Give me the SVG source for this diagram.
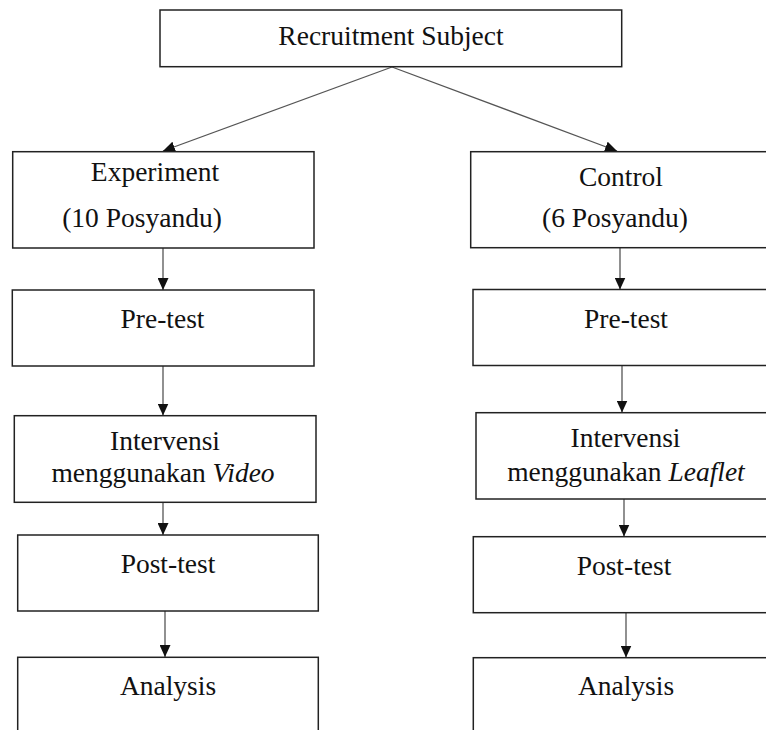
<svg xmlns="http://www.w3.org/2000/svg" width="766" height="730" viewBox="0 0 766 730">
<defs>
<style>
.box{fill:#fff;stroke:#222;stroke-width:1.5}
.lbl{font-family:"Liberation Serif","Times New Roman",serif;font-size:27.5px;fill:#111;text-anchor:middle}
.conn{stroke:#555;stroke-width:1.3;fill:none;marker-end:url(#ah)}
</style>
<marker id="ah" markerUnits="userSpaceOnUse" markerWidth="13" markerHeight="11" refX="12" refY="5.5" orient="auto">
<path d="M0,0 L12,5.5 L0,11 z" fill="#111"/>
</marker>
</defs>
<rect width="766" height="730" fill="#fff"/>
<g id="connectors">
<line class="conn" x1="392" y1="67" x2="163" y2="151"/>
<line class="conn" x1="392" y1="67" x2="617" y2="151"/>
<line class="conn" x1="163" y1="248" x2="163" y2="290"/>
<line class="conn" x1="620" y1="248" x2="620" y2="289.5"/>
<line class="conn" x1="163" y1="366" x2="163" y2="415.5"/>
<line class="conn" x1="622" y1="366" x2="622" y2="412.5"/>
<line class="conn" x1="163" y1="502" x2="163" y2="535"/>
<line class="conn" x1="624" y1="499" x2="624" y2="536.5"/>
<line class="conn" x1="165" y1="611" x2="165" y2="657"/>
<line class="conn" x1="626" y1="613" x2="626" y2="657.5"/>
</g>
<g id="recruitment">
<rect class="box" x="160" y="10" width="461.7" height="56.7"/>
<text class="lbl" x="391" y="45">Recruitment Subject</text>
</g>
<g id="experiment">
<rect class="box" x="12.7" y="151.7" width="301.3" height="96.3"/>
<text class="lbl" x="155" y="180.5">Experiment</text>
<text class="lbl" x="142" y="227">(10 Posyandu)</text>
</g>
<g id="control">
<rect class="box" x="470.7" y="151.7" width="300" height="96"/>
<text class="lbl" x="621" y="186">Control</text>
<text class="lbl" x="615" y="227">(6 Posyandu)</text>
</g>
<g id="pretest-exp">
<rect class="box" x="12.3" y="290" width="301.7" height="76"/>
<text class="lbl" x="162.5" y="327.7">Pre-test</text>
</g>
<g id="pretest-ctrl">
<rect class="box" x="473" y="289.5" width="300" height="76"/>
<text class="lbl" x="626" y="328">Pre-test</text>
</g>
<g id="intervensi-exp">
<rect class="box" x="14.3" y="415.7" width="301.7" height="86.6"/>
<text class="lbl" x="165" y="450">Intervensi</text>
<text class="lbl" x="163" y="481.7">menggunakan <tspan font-style="italic">Video</tspan></text>
</g>
<g id="intervensi-ctrl">
<rect class="box" x="476" y="412.7" width="300" height="86.3"/>
<text class="lbl" x="625.5" y="446.7">Intervensi</text>
<text class="lbl" x="626" y="481">menggunakan <tspan font-style="italic">Leaflet</tspan></text>
</g>
<g id="posttest-exp">
<rect class="box" x="17.7" y="535" width="300.6" height="76"/>
<text class="lbl" x="168" y="573">Post-test</text>
</g>
<g id="posttest-ctrl">
<rect class="box" x="473.3" y="536.7" width="300" height="76"/>
<text class="lbl" x="624" y="575">Post-test</text>
</g>
<g id="analysis-exp">
<rect class="box" x="17.7" y="657.3" width="300.6" height="90"/>
<text class="lbl" x="168" y="695">Analysis</text>
</g>
<g id="analysis-ctrl">
<rect class="box" x="473.3" y="657.7" width="300" height="90"/>
<text class="lbl" x="626" y="695">Analysis</text>
</g>
</svg>
